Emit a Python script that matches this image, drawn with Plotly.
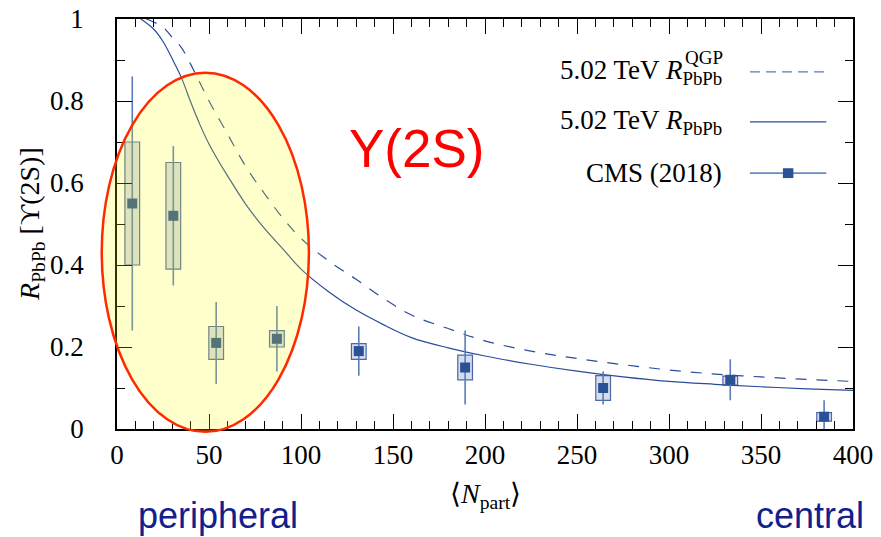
import plotly.graph_objects as go

# ---------------- data ----------------
npart = [8.3, 30.6, 53.9, 86.9, 131.4, 189.2, 264.2, 333.3, 384.3]
raa = [0.55, 0.52, 0.21, 0.22, 0.19, 0.15, 0.10, 0.12, 0.03]
stat_lo = [0.24, 0.35, 0.11, 0.14, 0.13, 0.06, 0.06, 0.07, 0.0]
stat_hi = [0.86, 0.69, 0.31, 0.30, 0.25, 0.24, 0.14, 0.17, 0.07]
sys_lo = [0.40, 0.39, 0.17, 0.20, 0.17, 0.12, 0.07, 0.107, 0.019]
sys_hi = [0.70, 0.65, 0.25, 0.24, 0.208, 0.18, 0.13, 0.129, 0.04]
sys_width = 8

curve_n = [13, 20, 25, 30, 35, 40, 45, 50, 55, 60, 70, 80, 90, 100, 115, 130, 145,
           160, 180, 200, 225, 250, 275, 300, 325, 350, 375, 400]
curve_raa = [1.0, 0.975, 0.945, 0.903, 0.857, 0.798, 0.743, 0.695, 0.655, 0.618,
             0.548, 0.49, 0.44, 0.39, 0.335, 0.29, 0.254, 0.223, 0.198, 0.178,
             0.158, 0.141, 0.127, 0.116, 0.109, 0.103, 0.098, 0.094]

qgp_n = [16, 25, 30, 35, 40, 45, 50, 60, 70, 80, 90, 100, 115, 130, 145, 160,
         180, 200, 225, 250, 275, 300, 325, 350, 375, 400]
qgp_raa = [1.0, 0.98, 0.955, 0.93, 0.89, 0.845, 0.80, 0.72, 0.64, 0.575, 0.515,
           0.465, 0.41, 0.365, 0.318, 0.278, 0.245, 0.215, 0.19, 0.172, 0.157,
           0.144, 0.134, 0.127, 0.121, 0.116]

x_ticks = [0, 50, 100, 150, 200, 250, 300, 350, 400]
y_ticks = [0, 0.2, 0.4, 0.6, 0.8, 1.0]
y_ticklabels = ["0", "0.2", "0.4", "0.6", "0.8", "1"]
x_range = [0, 400]
y_range = [0, 1]

# highlight ellipse extent (data units)
ell_x = [-8.3, 104.3]
ell_y = [-0.007, 0.869]

legend_labels = ["5.02 TeV <i>R</i><sub>PbPb</sub>",
                 "5.02 TeV <i>R</i><sub>PbPb</sub>",
                 "CMS (2018)"]
legend_y = [0.871, 0.749, 0.624]

# ---------------- styles ----------------
BLUE = "#2b4c9b"
ERR = "#5a7cb8"
SERIF = "Liberation Serif"
SANS = "Liberation Sans"
TICKFONT = dict(family=SERIF, size=27, color="black")

fig = go.Figure()

fig.add_trace(go.Scatter(x=qgp_n, y=qgp_raa, mode="lines", line_shape="spline",
                         line=dict(color=BLUE, width=1.2, dash="11px,10px"),
                         showlegend=False, hoverinfo="skip"))
fig.add_trace(go.Scatter(x=curve_n, y=curve_raa, mode="lines", line_shape="spline",
                         line=dict(color=BLUE, width=1.2),
                         showlegend=False, hoverinfo="skip"))

# systematic boxes
fig.add_trace(go.Bar(x=npart, base=sys_lo,
                     y=[h - l for h, l in zip(sys_hi, sys_lo)],
                     width=sys_width,
                     marker=dict(color="#d6ddec", line=dict(color="#4a68a8", width=1.2)),
                     showlegend=False, hoverinfo="skip"))

# statistical error bars + markers
fig.add_trace(go.Scatter(
    x=npart, y=raa, mode="markers",
    marker=dict(symbol="square", size=10, color="#2a5096"),
    error_y=dict(type="data", symmetric=False,
                 array=[h - v for h, v in zip(stat_hi, raa)],
                 arrayminus=[v - l for v, l in zip(raa, stat_lo)],
                 color=ERR, thickness=1.6, width=0),
    showlegend=False, hoverinfo="skip", cliponaxis=True))


def to_paper_x(v):
    return (v - x_range[0]) / (x_range[1] - x_range[0])


def to_paper_y(v):
    return (v - y_range[0]) / (y_range[1] - y_range[0])


shapes = []
# legend samples
shapes.append(dict(type="line", xref="x", yref="y", x0=344, x1=385.5,
                   y0=legend_y[0], y1=legend_y[0],
                   line=dict(color="#5a7cb8", width=1.4, dash="10px,6px")))
shapes.append(dict(type="line", xref="x", yref="y", x0=344, x1=385.5,
                   y0=legend_y[1], y1=legend_y[1],
                   line=dict(color=BLUE, width=1.4)))
shapes.append(dict(type="line", xref="x", yref="y", x0=344, x1=385.5,
                   y0=legend_y[2], y1=legend_y[2],
                   line=dict(color="#6a8cc4", width=1.6)))
shapes.append(dict(type="rect", xref="x", yref="y", x0=361.9, x1=367.6,
                   y0=legend_y[2] - 0.012, y1=legend_y[2] + 0.012,
                   fillcolor="#2a5096", line=dict(width=0)))
# highlight ellipse
shapes.append(dict(type="circle", xref="paper", yref="paper",
                   x0=to_paper_x(ell_x[0]), x1=to_paper_x(ell_x[1]),
                   y0=to_paper_y(ell_y[0]), y1=to_paper_y(ell_y[1]),
                   fillcolor="rgba(255,255,0,0.2)",
                   line=dict(color="#ff2a00", width=2.5), layer="above"))

annotations = []
for lab, yy in zip(legend_labels, legend_y):
    annotations.append(dict(x=330, y=yy, xref="x", yref="y", text=lab,
                            showarrow=False, xanchor="right", yanchor="middle",
                            font=dict(family=SERIF, size=27, color="black")))
annotations.append(dict(x=307.5, y=legend_y[0] + 0.034, xref="x", yref="y",
                        text="QGP", showarrow=False, xanchor="left", yanchor="middle",
                        font=dict(family=SERIF, size=19, color="black")))
annotations.append(dict(x=163, y=0.685, xref="x", yref="y", text="Υ(2S)",
                        showarrow=False, xanchor="center", yanchor="middle",
                        font=dict(family=SANS, size=53, color="#ff0000")))
annotations.append(dict(x=-0.117, y=0.5, xref="paper", yref="paper",
                        text="<i>R</i><sub>PbPb</sub> [ϒ(2S)]", textangle=-90,
                        showarrow=False, xanchor="center", yanchor="middle",
                        font=dict(family=SERIF, size=28, color="black")))
annotations.append(dict(x=0.5, y=-0.163, xref="paper", yref="paper",
                        text="⟨<i>N</i><sub>part</sub>⟩",
                        showarrow=False, xanchor="center", yanchor="middle",
                        font=dict(family=SERIF, size=28, color="black")))
annotations.append(dict(x=0.137, y=-0.21, xref="paper", yref="paper",
                        text="peripheral", showarrow=False, xanchor="center",
                        yanchor="middle", font=dict(family=SANS, size=36, color="#10208c")))
annotations.append(dict(x=0.942, y=-0.21, xref="paper", yref="paper",
                        text="central", showarrow=False, xanchor="center",
                        yanchor="middle", font=dict(family=SANS, size=36, color="#10208c")))

axis_common = dict(showline=True, linecolor="black", linewidth=1.5, mirror="ticks",
                   ticks="inside", tickcolor="black", tickwidth=1, ticklen=15,
                   showgrid=False, zeroline=False, tickfont=TICKFONT,
                   automargin=False)

fig.update_layout(
    width=881, height=537,
    margin=dict(l=117, r=28, t=19, b=108),
    paper_bgcolor="white", plot_bgcolor="white",
    font=dict(family=SERIF, size=27, color="black"),
    showlegend=False, barmode="overlay",
    shapes=shapes, annotations=annotations,
    xaxis=dict(range=x_range, tickvals=x_ticks, ticklabelstandoff=1,
               minor=dict(dtick=10, ticks="inside", ticklen=8, tickcolor="black",
                          tickwidth=1, showgrid=False),
               **axis_common),
    yaxis=dict(range=y_range, tickvals=y_ticks, ticktext=y_ticklabels,
               ticklabelstandoff=26,
               minor=dict(dtick=0.1, ticks="inside", ticklen=8, tickcolor="black",
                          tickwidth=1, showgrid=False),
               **axis_common),
)

fig.write_html("out.html")
